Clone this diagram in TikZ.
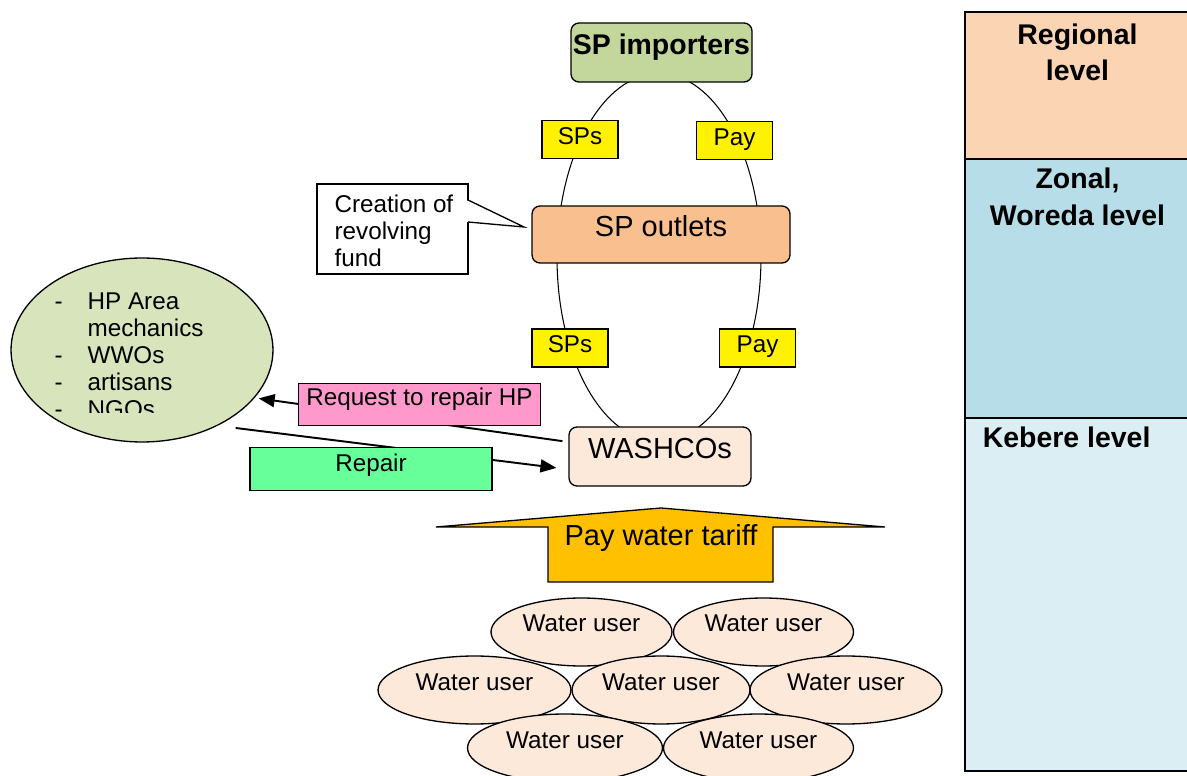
\documentclass[tikz,border=0pt]{standalone}
\usepackage{fontspec}
\setmainfont{Liberation Sans}
\usetikzlibrary{positioning,arrows.meta,shapes.geometric}

\definecolor{impgreen}{RGB}{195,214,155}
\definecolor{outorange}{RGB}{250,191,143}
\definecolor{washpeach}{RGB}{253,233,217}
\definecolor{mechgreen}{RGB}{215,228,188}
\definecolor{reqpink}{RGB}{255,153,204}
\definecolor{repgreen}{RGB}{102,255,153}
\definecolor{tariffgold}{RGB}{255,192,0}
\definecolor{regorange}{RGB}{251,212,180}
\definecolor{zonblue}{RGB}{182,221,232}
\definecolor{kebblue}{RGB}{219,238,243}

\newcommand{\fsmall}{\fontsize{13.8pt}{15.4pt}\selectfont}
\newcommand{\fbig}{\fontsize{16.5pt}{19pt}\selectfont}
\newcommand{\fbold}{\fontsize{16.2pt}{20.8pt}\selectfont\bfseries}
\newcommand{\dashitem}{\makebox[0.66cm][l]{-}}
\newcommand{\noitem}{\makebox[0.66cm]{}}

\begin{document}
\begin{tikzpicture}[x=0.02cm, y=-0.02cm, line width=0.75pt]
    \tikzstyle{box} = [rectangle, draw, rounded corners=0.16cm, inner sep=0pt,
        text height=0.3cm, text depth=0.2cm]
    \tikzstyle{tag} = [rectangle, draw, fill=yellow, inner sep=0pt,
        minimum width=1.52cm, minimum height=0.76cm,
        text height=0.35cm, text depth=0.15cm, font=\fsmall]
    \tikzstyle{lbl} = [rectangle, draw, inner sep=0pt, minimum width=4.84cm,
        minimum height=0.85cm, text height=0.3cm, text depth=0.2cm, font=\fsmall]
    \tikzstyle{wuser} = [ellipse, draw, fill=washpeach, inner sep=0pt,
        minimum height=1.36cm, text height=0.3cm, text depth=0.3cm, font=\fsmall]
    \tikzstyle{level} = [rectangle, draw, line width=1pt, minimum width=4.5cm]
    \tikzstyle{lvltxt} = [font=\fbold, align=center, inner sep=0pt]
    \tikzstyle{arrow} = [line width=1.1pt, -{Triangle[length=0.32cm, width=0.26cm]}]

    \useasboundingbox (0,0) rectangle (1187,776);

    % levels
    \node [level, fill=regorange, minimum height=2.94cm] (regional) at (1077.5,85.5) {};
    \node [level, fill=zonblue, minimum height=5.18cm] (zonal) at (1077.5,288.5) {};
    \node [level, fill=kebblue, minimum height=7.06cm] (kebere) at (1077.5,594.5) {};
    \node [lvltxt, below=0.24cm of regional.north] (regtxt) {Regional\\level};
    \node [lvltxt, below=0.19cm of zonal.north] (zontxt) {Zonal,\\Woreda level};
    \node [lvltxt, below right=0.18cm and 0.36cm of kebere.north west] (kebtxt) {Kebere level};

    % supply loop
    \node [ellipse, draw, line width=0.6pt, minimum width=4.08cm, minimum height=7.36cm] (ring) at (659,257.5) {};
    \node [box, fill=impgreen, minimum width=3.62cm, minimum height=1.18cm, font=\fbold] (importers) at (661.5,52.5) {SP importers};
    \node [box, fill=outorange, minimum width=5.16cm, minimum height=1.14cm, font=\fbig] (outlets) at (661,234.5) {SP outlets};
    \node [box, fill=washpeach, minimum width=3.64cm, minimum height=1.18cm, font=\fbig] (washco) at (660,456.5) {WASHCOs};
    \node [tag] (sps1) at (580,139.5) {SPs};
    \node [tag] (pay1) at (734.5,140.5) {Pay};
    \node [tag] (sps2) at (570,348) {SPs};
    \node [tag] (pay2) at (757.5,348) {Pay};

    % callout
    \node [rectangle, draw, fill=white, minimum width=3.02cm, minimum height=1.8cm] (fund) at (392.5,229) {};
    \fill [white] (466,200) -- (524,227) -- (466,222) -- cycle;
    \draw (468,200) -- (524,227) -- (468,222);
    \node [font=\fsmall, align=left, inner sep=0pt, anchor=north west] (fundtxt) at (334,194) {Creation of\\revolving\\fund};

    % repair actors
    \node [ellipse, draw, fill=mechgreen, minimum width=5.24cm, minimum height=3.68cm] (mech) at (142,350) {};
    \begin{scope}
        \clip (0,250) rectangle (300,413);
        \node [font=\fsmall, align=left, inner sep=0pt, anchor=north west] (mechtxt) at (54,292)
            {\dashitem HP Area\\\noitem mechanics\\\dashitem WWOs\\\dashitem artisans\\\dashitem NGOs};
    \end{scope}

    \draw [arrow, shorten <=0.12cm, shorten >=0.08cm] (washco.171) -- (mech.-23);
    \node [lbl, fill=reqpink, text height=0.28cm, text depth=0.22cm] (request) at (419.5,404.5) {Request to repair HP};
    \draw [arrow, shorten <=0.36cm, shorten >=0.24cm] (mech.-45) -- (washco.188);
    \node [lbl, fill=repgreen, text height=0.31cm, text depth=0.19cm] (repair) at (371,469) {Repair};

    % tariff
    \draw [fill=tariffgold] (548,582) -- (548,527) -- (436,527) -- (661,508) -- (885,527) -- (773,527) -- (773,582) -- cycle;
    \node [font=\fbig, inner sep=0pt, anchor=base] (tariff) at (661,545.7) {Pay water tariff};

    % water users
    \node [wuser, minimum width=3.62cm] (user1) at (581.5,632) {Water user};
    \node [wuser, minimum width=3.6cm] (user2) at (763.5,632) {Water user};
    \node [wuser, minimum width=3.86cm] (user3) at (474.5,690) {Water user};
    \node [wuser, minimum width=3.56cm] (user4) at (661,690) {Water user};
    \node [wuser, minimum width=3.84cm] (user5) at (846,690) {Water user};
    \node [wuser, minimum width=3.9cm] (user6) at (565,748) {Water user};
    \node [wuser, minimum width=3.8cm] (user7) at (758.5,748) {Water user};
\end{tikzpicture}
\end{document}
